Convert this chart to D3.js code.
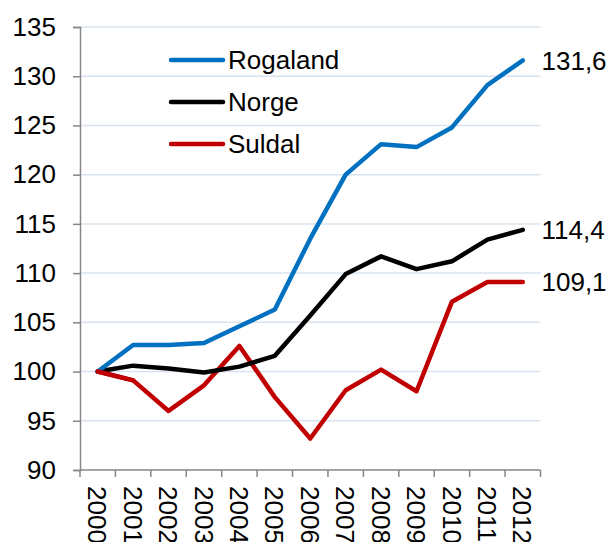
<!DOCTYPE html>
<html>
<head>
<meta charset="utf-8">
<script src="https://cdn.jsdelivr.net/npm/d3@7.9.0/dist/d3.min.js"></script>
<style>
  body { margin: 0; background: #fff; }
  svg { display: block; font-family: "Liberation Sans", Arial, sans-serif; }
</style>
</head>
<body>
<svg id="chart" width="609" height="542"></svg>
<script>
// data
const years = ["2000","2001","2002","2003","2004","2005","2006","2007","2008","2009","2010","2011","2012"];
const rogaland = [100, 102.7, 102.7, 102.9, 104.6, 106.3, 113.5, 120.0, 123.1, 122.8, 124.8, 129.1, 131.6];
const norge    = [100, 100.6, 100.3, 99.9, 100.5, 101.6, 105.7, 109.9, 111.7, 110.4, 111.2, 113.4, 114.4];
const suldal   = [100, 99.1, 96.0, 98.6, 102.6, 97.4, 93.2, 98.1, 100.2, 98.0, 107.1, 109.1, 109.1];
const yTicks = [90, 95, 100, 105, 110, 115, 120, 125, 130, 135];

const series = [
  { name: "Rogaland", values: rogaland, color: "#0070C0", end: "131,6" },
  { name: "Norge", values: norge, color: "#000000", end: "114,4" },
  { name: "Suldal", values: suldal, color: "#C00000", end: "109,1" }
];

const svg = d3.select("#chart");
const plotLeft = 80, plotRight = 540.5, plotTop = 27, plotBottom = 470;
const fontSize = 26;

let x = d3.scaleBand().domain(years).range([plotLeft, plotRight]);
let y = d3.scaleLinear().domain([90, 135]).range([plotBottom, plotTop]);

// gridlines
svg.append("g").selectAll("line")
  .data(yTicks.filter(d => d > 90))
  .join("line")
  .attr("x1", plotLeft).attr("x2", plotRight)
  .attr("y1", d => y(d)).attr("y2", d => y(d))
  .attr("stroke", "#D9E3F0").attr("stroke-width", 1.5);

// y axis
let yAxis = svg.append("g")
  .attr("transform", `translate(${plotLeft},0)`)
  .call(d3.axisLeft(y).tickValues(yTicks).tickSize(7).tickPadding(17));
yAxis.select(".domain").attr("stroke", "#868686").attr("stroke-width", 1.5);
yAxis.selectAll(".tick line").attr("stroke", "#868686").attr("stroke-width", 1.5);
yAxis.selectAll(".tick text").attr("font-size", fontSize).attr("fill", "#000")
  .attr("font-family", "Liberation Sans, Arial, sans-serif");

// x axis
let xAxisG = svg.append("g").attr("transform", `translate(0,${plotBottom})`);
xAxisG.append("line").attr("x1", plotLeft).attr("x2", plotRight)
  .attr("stroke", "#868686").attr("stroke-width", 1.5);
let bounds = years.map(d => x(d)).concat([plotRight]);
xAxisG.selectAll(".xt").data(bounds).join("line")
  .attr("class", "xt")
  .attr("x1", d => d).attr("x2", d => d)
  .attr("y1", 0).attr("y2", 7)
  .attr("stroke", "#868686").attr("stroke-width", 1.5);
xAxisG.selectAll("text").data(years).join("text")
  .attr("transform", d => `translate(${x(d) + x.bandwidth() / 2},16) rotate(90)`)
  .attr("dy", "0.36em")
  .attr("text-anchor", "start")
  .attr("font-size", fontSize)
  .text(d => d);

// lines
let line = d3.line()
  .x((d, i) => x(years[i]) + x.bandwidth() / 2)
  .y(d => y(d));

// draw in order so blue and black sit above red
[series[2], series[1], series[0]].forEach(s => {
  svg.append("path")
    .attr("d", line(s.values))
    .attr("fill", "none")
    .attr("stroke", s.color)
    .attr("stroke-width", 4.5)
    .attr("stroke-linejoin", "round")
    .attr("stroke-linecap", "round");
});
// red start point sits on top in the picture
svg.append("path")
  .attr("d", line(suldal.slice(0, 2)))
  .attr("fill", "none").attr("stroke", "#C00000")
  .attr("stroke-width", 4.5).attr("stroke-linecap", "round");

// end labels
series.forEach(s => {
  let last = s.values[s.values.length - 1];
  svg.append("text")
    .attr("x", plotRight + 1)
    .attr("y", y(last))
    .attr("dy", "0.36em")
    .attr("font-size", fontSize)
    .text(s.end);
});

// legend
series.forEach((s, i) => {
  let ly = 60 + i * 42;
  svg.append("line")
    .attr("x1", 171).attr("x2", 223)
    .attr("y1", ly).attr("y2", ly)
    .attr("stroke", s.color).attr("stroke-width", 4.5)
    .attr("stroke-linecap", "round");
  svg.append("text")
    .attr("x", 228).attr("y", ly)
    .attr("dy", "0.36em")
    .attr("font-size", fontSize)
    .text(s.name);
});
</script>
</body>
</html>
